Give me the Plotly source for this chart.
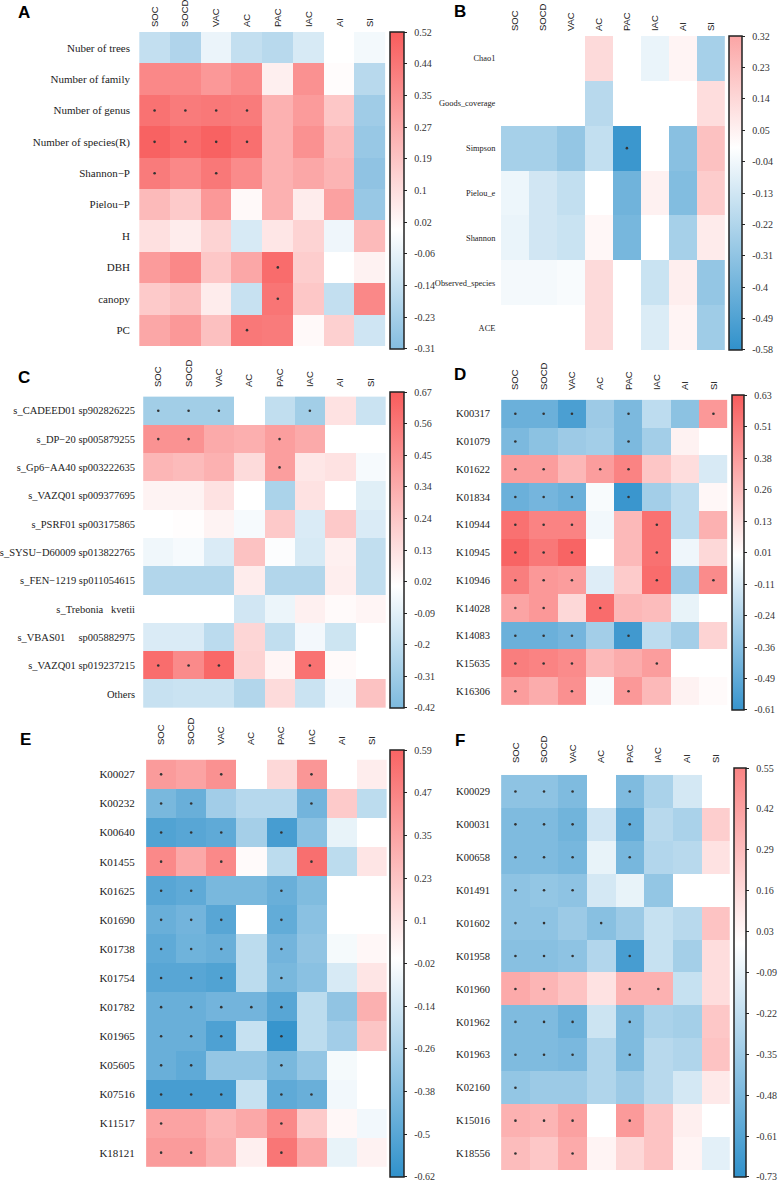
import plotly.graph_objects as go

COLS = ["SOC", "SOCD", "VAC", "AC", "PAC", "IAC", "AI", "SI"]

# ---------------- Panel A ----------------
a_rows = ["Nuber of trees", "Number of family", "Number of genus", "Number of species(R)",
          "Shannon\u2212P", "Pielou\u2212P", "H", "DBH", "canopy", "PC"]
a_vals = [
    [-0.15, -0.20, -0.05, -0.15, -0.18, -0.10, 0.00, -0.03],
    [0.38, 0.38, 0.33, 0.37, 0.05, 0.35, 0.01, -0.18],
    [0.45, 0.42, 0.43, 0.42, 0.25, 0.32, 0.18, -0.24],
    [0.50, 0.47, 0.50, 0.46, 0.25, 0.35, 0.22, -0.26],
    [0.42, 0.38, 0.43, 0.37, 0.25, 0.28, 0.24, -0.28],
    [0.22, 0.17, 0.33, 0.02, 0.25, 0.06, 0.30, -0.26],
    [0.10, 0.06, 0.14, -0.10, 0.08, 0.14, -0.04, 0.22],
    [0.32, 0.38, 0.18, 0.28, 0.47, 0.16, 0.00, 0.04],
    [0.17, 0.20, 0.06, -0.14, 0.44, 0.18, -0.15, 0.38],
    [0.28, 0.33, 0.20, 0.43, 0.42, 0.02, 0.15, -0.12],
]
a_sig = [
    [0, 0, 0, 0, 0, 0, 0, 0],
    [0, 0, 0, 0, 0, 0, 0, 0],
    [1, 1, 1, 1, 0, 0, 0, 0],
    [1, 1, 1, 1, 0, 0, 0, 0],
    [1, 0, 1, 0, 0, 0, 0, 0],
    [0, 0, 0, 0, 0, 0, 0, 0],
    [0, 0, 0, 0, 0, 0, 0, 0],
    [0, 0, 0, 0, 1, 0, 0, 0],
    [0, 0, 0, 0, 1, 0, 0, 0],
    [0, 0, 0, 1, 0, 0, 0, 0],
]
a_range = [-0.31, 0.52]
a_ticks = ["-0.31", "-0.23", "-0.14", "-0.06", "0.02", "0.1", "0.19", "0.27", "0.35", "0.44", "0.52"]

# ---------------- Panel B ----------------
b_rows = ["Chao1", "Goods_coverage", "Simpson", "Pielou_e", "Shannon", "Observed_species", "ACE"]
b_vals = [
    [None, None, None, 0.13, None, -0.06, 0.04, -0.25],
    [None, None, None, -0.20, None, None, None, 0.12],
    [-0.25, -0.25, -0.30, -0.17, -0.55, None, -0.33, 0.22],
    [-0.05, -0.13, -0.17, 0.00, -0.40, 0.05, -0.35, 0.18],
    [-0.06, -0.13, -0.15, 0.03, -0.38, None, -0.25, 0.07],
    [-0.03, -0.03, -0.02, 0.13, None, -0.15, 0.06, -0.30],
    [None, None, None, 0.13, None, -0.10, 0.04, -0.27],
]
b_sig = [
    [0, 0, 0, 0, 0, 0, 0, 0],
    [0, 0, 0, 0, 0, 0, 0, 0],
    [0, 0, 0, 0, 1, 0, 0, 0],
    [0, 0, 0, 0, 0, 0, 0, 0],
    [0, 0, 0, 0, 0, 0, 0, 0],
    [0, 0, 0, 0, 0, 0, 0, 0],
    [0, 0, 0, 0, 0, 0, 0, 0],
]
b_range = [-0.58, 0.32]
b_ticks = ["-0.58", "-0.49", "-0.4", "-0.31", "-0.22", "-0.13", "-0.04", "0.05", "0.14", "0.23", "0.32"]

# ---------------- Panel C ----------------
c_rows = ["s_CADEED01 sp902826225", "s_DP\u221220 sp005879255", "s_Gp6\u2212AA40 sp003222635",
          "s_VAZQ01 sp009377695", "s_PSRF01 sp003175865", "s_SYSU\u2212D60009 sp013822765",
          "s_FEN\u22121219 sp011054615", "s_Trebonia\u00a0\u00a0\u00a0kvetii",
          "s_VBAS01\u00a0\u00a0\u00a0\u00a0\u00a0sp005882975", "s_VAZQ01 sp019237215", "Others"]
c_vals = [
    [-0.30, -0.30, -0.30, 0.00, -0.20, -0.30, 0.12, -0.17],
    [0.45, 0.45, 0.35, 0.33, 0.40, 0.35, 0.00, 0.00],
    [0.30, 0.28, 0.32, 0.15, 0.40, 0.10, 0.12, -0.03],
    [0.05, 0.05, 0.12, 0.00, -0.27, 0.12, 0.00, -0.10],
    [0.00, 0.01, 0.05, -0.03, 0.22, -0.12, 0.22, -0.12],
    [-0.05, -0.03, -0.12, 0.25, -0.01, -0.13, 0.06, -0.20],
    [-0.25, -0.25, -0.25, 0.08, -0.25, -0.25, 0.07, -0.20],
    [0.00, 0.00, 0.00, -0.15, -0.06, 0.06, 0.02, 0.04],
    [-0.12, -0.12, -0.22, 0.17, -0.20, -0.04, -0.16, 0.00],
    [0.60, 0.48, 0.62, 0.18, 0.04, 0.58, 0.02, 0.00],
    [-0.18, -0.17, -0.17, -0.25, 0.15, -0.17, -0.04, 0.25],
]
c_sig = [
    [1, 1, 1, 0, 0, 1, 0, 0],
    [1, 1, 0, 0, 1, 0, 0, 0],
    [0, 0, 0, 0, 1, 0, 0, 0],
    [0, 0, 0, 0, 0, 0, 0, 0],
    [0, 0, 0, 0, 0, 0, 0, 0],
    [0, 0, 0, 0, 0, 0, 0, 0],
    [0, 0, 0, 0, 0, 0, 0, 0],
    [0, 0, 0, 0, 0, 0, 0, 0],
    [0, 0, 0, 0, 0, 0, 0, 0],
    [1, 1, 1, 0, 0, 1, 0, 0],
    [0, 0, 0, 0, 0, 0, 0, 0],
]
c_range = [-0.42, 0.67]
c_ticks = ["-0.42", "-0.31", "-0.2", "-0.09", "0.02", "0.13", "0.24", "0.34", "0.45", "0.56", "0.67"]

# ---------------- Panel D ----------------
d_rows = ["K00317", "K01079", "K01622", "K01834", "K10944", "K10945", "K10946",
          "K14028", "K14083", "K15635", "K16306"]
d_vals = [
    [-0.45, -0.45, -0.55, -0.30, -0.40, -0.20, -0.35, 0.40],
    [-0.40, -0.35, -0.30, -0.28, -0.40, -0.28, 0.05, 0.00],
    [0.38, 0.38, 0.28, 0.38, 0.48, 0.22, 0.13, -0.12],
    [-0.45, -0.42, -0.45, -0.02, -0.60, -0.28, -0.20, 0.03],
    [0.55, 0.48, 0.48, -0.04, 0.27, 0.55, -0.20, 0.30],
    [0.60, 0.52, 0.60, 0.00, 0.27, 0.55, -0.05, 0.15],
    [0.50, 0.40, 0.38, -0.10, 0.20, 0.57, -0.30, 0.45],
    [0.35, 0.40, 0.15, 0.57, 0.28, 0.26, -0.07, 0.00],
    [-0.45, -0.45, -0.42, -0.28, -0.58, -0.20, -0.28, 0.17],
    [0.50, 0.48, 0.45, 0.27, 0.32, 0.38, 0.00, 0.00],
    [0.38, 0.32, 0.43, -0.02, 0.40, 0.27, 0.05, 0.02],
]
d_sig = [
    [1, 1, 1, 0, 1, 0, 0, 1],
    [1, 0, 0, 0, 1, 0, 0, 0],
    [1, 1, 0, 1, 1, 0, 0, 0],
    [1, 1, 1, 0, 1, 0, 0, 0],
    [1, 1, 1, 0, 0, 1, 0, 0],
    [1, 1, 1, 0, 0, 1, 0, 0],
    [1, 1, 1, 0, 0, 1, 0, 1],
    [1, 1, 0, 1, 0, 0, 0, 0],
    [1, 1, 1, 0, 1, 0, 0, 0],
    [1, 1, 1, 0, 0, 1, 0, 0],
    [1, 0, 1, 0, 1, 0, 0, 0],
]
d_range = [-0.61, 0.63]
d_ticks = ["-0.61", "-0.49", "-0.36", "-0.24", "-0.11", "0.01", "0.13", "0.26", "0.38", "0.51", "0.63"]

# ---------------- Panel E ----------------
e_rows = ["K00027", "K00232", "K00640", "K01455", "K01625", "K01690", "K01738", "K01754",
          "K01782", "K01965", "K05605", "K07516", "K11517", "K18121"]
e_vals = [
    [0.38, 0.35, 0.42, 0.00, 0.15, 0.40, 0.00, 0.07],
    [-0.40, -0.45, -0.28, -0.22, -0.22, -0.42, 0.20, -0.20],
    [-0.52, -0.50, -0.48, -0.27, -0.55, -0.35, -0.07, 0.00],
    [0.45, 0.33, 0.45, 0.02, -0.20, 0.55, -0.20, 0.10],
    [-0.50, -0.48, -0.40, -0.40, -0.45, -0.38, 0.00, 0.00],
    [-0.45, -0.42, -0.50, 0.00, -0.47, -0.35, 0.00, 0.00],
    [-0.48, -0.43, -0.45, -0.20, -0.42, -0.33, -0.03, 0.03],
    [-0.50, -0.50, -0.52, -0.20, -0.40, -0.35, -0.12, 0.10],
    [-0.45, -0.45, -0.42, -0.42, -0.50, -0.20, -0.33, 0.30],
    [-0.45, -0.45, -0.53, -0.17, -0.60, -0.20, -0.28, 0.22],
    [-0.45, -0.48, -0.32, -0.32, -0.40, -0.32, -0.03, 0.00],
    [-0.55, -0.55, -0.55, -0.17, -0.48, -0.45, -0.04, 0.00],
    [0.35, 0.35, 0.28, 0.33, 0.45, 0.20, 0.03, -0.04],
    [0.38, 0.38, 0.30, 0.06, 0.52, 0.33, -0.07, 0.05],
]
e_sig = [
    [1, 0, 1, 0, 0, 1, 0, 0],
    [1, 1, 0, 0, 0, 1, 0, 0],
    [1, 1, 1, 0, 1, 0, 0, 0],
    [1, 0, 1, 0, 0, 1, 0, 0],
    [1, 1, 0, 0, 1, 0, 0, 0],
    [1, 1, 1, 0, 1, 0, 0, 0],
    [1, 1, 1, 0, 1, 0, 0, 0],
    [1, 1, 1, 0, 1, 0, 0, 0],
    [1, 1, 1, 1, 1, 0, 0, 0],
    [1, 1, 1, 0, 1, 0, 0, 0],
    [1, 1, 0, 0, 1, 0, 0, 0],
    [1, 1, 1, 0, 1, 1, 0, 0],
    [1, 0, 0, 0, 1, 0, 0, 0],
    [1, 1, 0, 0, 1, 0, 0, 0],
]
e_range = [-0.62, 0.59]
e_ticks = ["-0.62", "-0.5", "-0.38", "-0.26", "-0.14", "-0.02", "0.1", "0.23", "0.35", "0.47", "0.59"]

# ---------------- Panel F ----------------
f_rows = ["K00029", "K00031", "K00658", "K01491", "K01602", "K01958", "K01960", "K01962",
          "K01963", "K02160", "K15016", "K18556"]
f_vals = [
    [-0.40, -0.40, -0.45, 0.00, -0.45, -0.30, -0.15, 0.00],
    [-0.45, -0.45, -0.50, -0.17, -0.55, -0.25, -0.30, 0.22],
    [-0.45, -0.45, -0.48, -0.08, -0.48, -0.27, -0.25, 0.13],
    [-0.40, -0.38, -0.40, -0.15, -0.08, -0.38, 0.00, 0.00],
    [-0.40, -0.40, -0.35, -0.42, -0.35, -0.20, -0.25, 0.27],
    [-0.42, -0.42, -0.40, -0.27, -0.65, -0.20, -0.32, 0.15],
    [0.38, 0.33, 0.27, 0.13, 0.35, 0.35, -0.20, 0.15],
    [-0.45, -0.45, -0.52, -0.18, -0.45, -0.30, -0.32, 0.25],
    [-0.45, -0.45, -0.47, -0.28, -0.45, -0.25, -0.28, 0.27],
    [-0.38, -0.35, -0.35, -0.28, -0.35, -0.25, -0.15, 0.10],
    [0.35, 0.33, 0.42, 0.00, 0.45, 0.27, 0.07, 0.00],
    [0.30, 0.25, 0.38, 0.05, 0.18, 0.27, 0.05, -0.10],
]
f_sig = [
    [1, 1, 1, 0, 1, 0, 0, 0],
    [1, 1, 1, 0, 1, 0, 0, 0],
    [1, 1, 1, 0, 1, 0, 0, 0],
    [1, 1, 1, 0, 0, 0, 0, 0],
    [1, 1, 0, 1, 0, 0, 0, 0],
    [1, 1, 1, 0, 1, 0, 0, 0],
    [1, 1, 0, 0, 1, 1, 0, 0],
    [1, 1, 1, 0, 1, 0, 0, 0],
    [1, 1, 1, 0, 1, 0, 0, 0],
    [1, 0, 0, 0, 0, 0, 0, 0],
    [1, 1, 1, 0, 1, 0, 0, 0],
    [1, 0, 1, 0, 0, 0, 0, 0],
]
f_range = [-0.73, 0.55]
f_ticks = ["-0.73", "-0.61", "-0.48", "-0.35", "-0.22", "-0.09", "0.03", "0.16", "0.29", "0.42", "0.55"]

# ---------------- styling / layout (pixels) ----------------
W, H = 782, 1183
BLUE = (48, 145, 203)
RED = (248, 92, 92)
SERIF = "Liberation Serif, Times New Roman, serif"
SANS = "Liberation Sans, Arial, sans-serif"

panels = [
    # letter, rows, vals, sig, range, ticks, heat box (x0,x1,y0,y1), colorbar (x, width),
    # letter pos, row-label font size, row-label gap
    ("A", a_rows, a_vals, a_sig, a_range, a_ticks, (130, 380, 32, 349), (384, 14), (13, 13), 11, 6),
    ("B", b_rows, b_vals, b_sig, b_range, b_ticks, (497, 724, 36, 350), (728, 13), (455, 12), 8.4, 3),
    ("C", c_rows, c_vals, c_sig, c_range, c_ticks, (134, 380, 392, 708), (384, 14), (13, 377), 10.5, 5),
    ("D", d_rows, d_vals, d_sig, d_range, d_ticks, (497, 727, 395, 710), (731, 12), (455, 374), 10.5, 8),
    ("E", e_rows, e_vals, e_sig, e_range, e_ticks, (137, 381, 750, 1177), (384, 14), (15, 739), 11, 8),
    ("F", f_rows, f_vals, f_sig, f_range, f_ticks, (497, 729, 768, 1177), (733, 12), (455, 740), 10.5, 8),
]


def mix(c, t):
    return "rgb(%d,%d,%d)" % tuple(round(255 + (ci - 255) * t) for ci in c)


def make_scale(lo, hi):
    m = max(-lo, hi)
    z0 = -lo / (hi - lo)
    return [[0.0, mix(BLUE, -lo / m)], [z0, "rgb(255,255,255)"], [1.0, mix(RED, hi / m)]]


fig = go.Figure()
layout = dict(
    width=W, height=H, margin=dict(l=0, r=0, t=0, b=0),
    paper_bgcolor="white", plot_bgcolor="white", showlegend=False,
)
annotations = []

for i, (letter, rows, vals, sig, rng, ticks, box, cb, lpos, rfs, rgap) in enumerate(panels):
    k = i + 1
    xa = "x" if k == 1 else "x%d" % k
    ya = "y" if k == 1 else "y%d" % k
    x0, x1, y0, y1 = box
    lo, hi = rng
    n = len(ticks)
    eps = (hi - lo) * 1e-4
    tickvals = [lo + (hi - lo) * j / (n - 1) for j in range(n)]
    tickvals[0] = lo + eps
    tickvals[-1] = hi - eps
    fig.add_trace(go.Heatmap(
        z=vals, x=COLS, y=rows, xaxis=xa, yaxis=ya,
        colorscale=make_scale(lo, hi), zmin=lo, zmax=hi, hoverongaps=False,
        colorbar=dict(
            x=cb[0] / W, xanchor="left", xref="paper",
            y=1 - y0 / H, yanchor="top", yref="paper",
            len=(y1 - y0) / H, lenmode="fraction",
            thickness=cb[1], thicknessmode="pixels",
            outlinewidth=1.5, outlinecolor="#222", borderwidth=0,
            xpad=0, ypad=0,
            tickvals=tickvals, ticktext=["\u2002" + t for t in ticks],
            ticks="outside", ticklen=3, tickwidth=1, tickcolor="#222",
            tickfont=dict(family=SERIF, size=10, color="#333"),
        ),
    ))
    sx, sy = [], []
    for r, row in enumerate(rows):
        for c, col in enumerate(COLS):
            if sig[r][c]:
                sx.append(col)
                sy.append(row)
    fig.add_trace(go.Scatter(
        x=sx, y=sy, xaxis=xa, yaxis=ya, mode="markers",
        marker=dict(size=2.6, color="#333"), hoverinfo="skip",
    ))
    layout["xaxis" if k == 1 else "xaxis%d" % k] = dict(
        domain=[x0 / W, x1 / W], anchor=ya, side="top",
        type="category", categoryorder="array", categoryarray=COLS,
        showgrid=False, zeroline=False, showline=False,
        ticks="outside", ticklen=2, tickcolor="rgba(0,0,0,0)", tickangle=-90,
        tickfont=dict(family=SANS, size=9.5, color="#222"),
    )
    layout["yaxis" if k == 1 else "yaxis%d" % k] = dict(
        domain=[1 - y1 / H, 1 - y0 / H], anchor=xa,
        type="category", categoryorder="array", categoryarray=rows,
        autorange="reversed",
        showgrid=False, zeroline=False, showline=False,
        ticks="outside", ticklen=rgap, tickcolor="rgba(0,0,0,0)",
        tickfont=dict(family=SERIF, size=rfs, color="#222"),
    )
    annotations.append(dict(
        text="<b>%s</b>" % letter, x=lpos[0] / W, y=1 - lpos[1] / H,
        xref="paper", yref="paper", xanchor="center", yanchor="middle",
        showarrow=False, font=dict(family=SANS, size=17, color="black"),
    ))

layout["annotations"] = annotations
fig.update_layout(**layout)
fig.write_html("out.html")
